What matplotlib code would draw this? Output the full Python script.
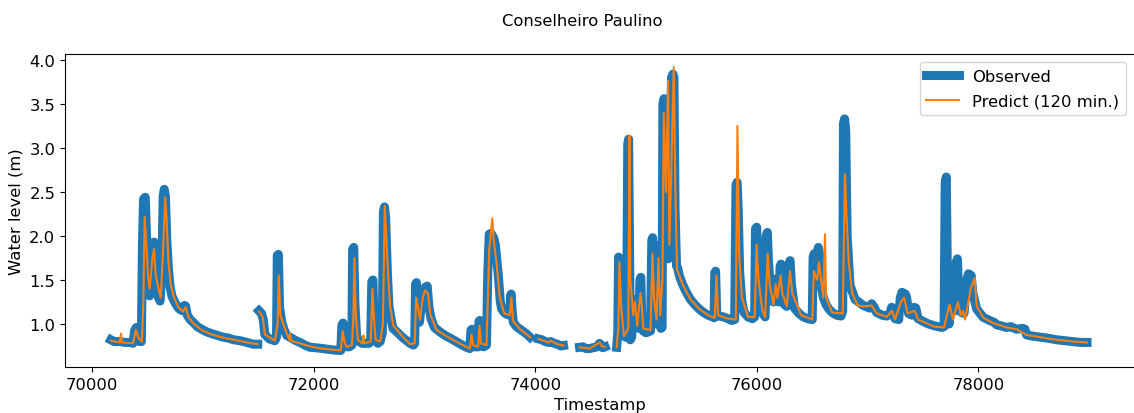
import numpy as np
import matplotlib
matplotlib.use("Agg")
import matplotlib.pyplot as plt

nan = np.nan

# observed water level (timestamp, metres), nan = missing data
observed = [
    (70170, 0.82), (70200, 0.80), (70250, 0.80), (70300, 0.79), (70350, 0.79), (70370, 0.78),
    (70385, 0.93), (70400, 0.96), (70415, 0.93), (70430, 0.80), (70445, 0.80), (70455, 1.90),
    (70465, 2.42), (70480, 2.44), (70492, 2.00), (70505, 1.45), (70520, 1.32), (70535, 1.70),
    (70550, 1.92), (70560, 1.93), (70570, 1.60), (70585, 1.50), (70600, 1.30), (70614, 1.26),
    (70630, 1.60), (70642, 2.45), (70652, 2.53), (70662, 2.45), (70675, 1.95), (70690, 1.62),
    (70705, 1.42), (70720, 1.32), (70750, 1.24), (70780, 1.18), (70800, 1.16), (70820, 1.15),
    (70835, 1.21), (70845, 1.20), (70860, 1.10), (70885, 1.05), (70912, 1.02), (70950, 0.97),
    (70990, 0.94), (71035, 0.91), (71080, 0.89), (71130, 0.87), (71182, 0.85), (71230, 0.84),
    (71280, 0.82), (71336, 0.81), (71400, 0.79), (71455, 0.77), (71495, 0.77),
    (71501, nan),
    (71507, 1.15), (71530, 1.12), (71545, 1.05), (71560, 0.88), (71600, 0.83), (71650, 0.81),
    (71665, 0.85), (71672, 1.78), (71682, 1.79), (71692, 1.20), (71712, 1.02), (71735, 0.93),
    (71757, 0.87), (71800, 0.84), (71840, 0.81), (71877, 0.79), (71920, 0.76), (71967, 0.735),
    (72020, 0.73), (72085, 0.72), (72150, 0.71), (72208, 0.70), (72245, 0.70), (72255, 0.98),
    (72265, 1.01), (72278, 0.80), (72298, 0.74), (72320, 0.74), (72345, 0.76), (72352, 1.85),
    (72362, 1.87), (72372, 1.25), (72388, 0.86), (72410, 0.80), (72440, 0.78), (72470, 0.78),
    (72500, 0.78), (72515, 0.80), (72525, 1.48), (72535, 1.50), (72545, 1.00), (72560, 0.82),
    (72580, 0.78), (72600, 0.80), (72620, 0.90), (72630, 2.28), (72640, 2.33), (72650, 2.20),
    (72665, 1.60), (72680, 1.20), (72700, 1.05), (72716, 0.95), (72760, 0.90), (72800, 0.85),
    (72840, 0.81), (72870, 0.78), (72900, 0.76), (72912, 0.78), (72920, 1.45), (72928, 1.47),
    (72940, 1.10), (72955, 1.02), (72975, 1.25), (72995, 1.38), (73010, 1.42), (73025, 1.43),
    (73040, 1.20), (73060, 1.06), (73090, 0.96), (73110, 0.94), (73150, 0.90), (73200, 0.86),
    (73260, 0.82), (73300, 0.79), (73340, 0.76), (73380, 0.735), (73410, 0.72), (73420, 0.93),
    (73428, 0.94), (73440, 0.76), (73460, 0.74), (73485, 0.74), (73492, 1.03), (73500, 1.04),
    (73510, 0.78), (73535, 0.74), (73560, 0.76), (73572, 1.60), (73585, 2.02), (73600, 2.03),
    (73625, 1.98), (73640, 1.90), (73655, 1.70), (73667, 1.55), (73685, 1.25), (73697, 1.17),
    (73720, 1.13), (73743, 1.11), (73770, 1.10), (73776, 1.30), (73783, 1.34), (73792, 1.15),
    (73802, 1.02), (73830, 0.97), (73863, 0.94), (73895, 0.91), (73923, 0.886), (73953, 0.85),
    (73990, nan),
    (74030, 0.83), (74060, 0.82), (74090, 0.80), (74120, 0.79), (74140, 0.80), (74170, 0.78),
    (74200, 0.77), (74230, 0.75), (74255, 0.755),
    (74330, nan),
    (74400, 0.735), (74430, 0.74), (74460, 0.72), (74490, 0.72), (74520, 0.73), (74560, 0.74),
    (74580, 0.78), (74595, 0.76), (74610, 0.73), (74630, 0.74),
    (74680, nan),
    (74735, 0.735), (74745, 0.90), (74752, 1.76), (74760, 1.74), (74770, 1.40), (74785, 0.95),
    (74800, 0.88), (74815, 0.85), (74825, 1.00), (74835, 3.05), (74843, 3.10), (74850, 2.00),
    (74858, 0.82), (74870, 0.85), (74885, 1.28), (74900, 1.25), (74915, 0.98), (74935, 0.95),
    (74945, 1.50), (74953, 1.53), (74962, 1.00), (74975, 0.92), (75000, 0.90), (75040, 0.92),
    (75052, 1.95), (75060, 1.98), (75068, 1.60), (75080, 1.05), (75095, 1.00), (75105, 1.85),
    (75113, 1.89), (75122, 1.40), (75135, 0.95), (75145, 0.96), (75152, 3.50), (75162, 3.56),
    (75172, 3.50), (75185, 2.00), (75200, 1.74), (75215, 2.50), (75230, 3.80), (75243, 3.84),
    (75252, 3.80), (75262, 2.30), (75275, 1.66), (75285, 1.64), (75300, 1.55), (75330, 1.45),
    (75360, 1.37), (75400, 1.28), (75440, 1.22), (75480, 1.17), (75520, 1.13), (75560, 1.10),
    (75600, 1.08), (75615, 1.07), (75620, 1.58), (75628, 1.60), (75638, 1.10), (75660, 1.09),
    (75700, 1.08), (75740, 1.06), (75772, 1.04), (75800, 1.05), (75812, 2.58), (75822, 2.61),
    (75832, 2.30), (75845, 1.59), (75865, 1.25), (75885, 1.13), (75920, 1.08), (75960, 1.06),
    (75980, 1.08), (75988, 2.08), (75998, 2.10), (76008, 1.80), (76030, 1.25), (76050, 1.13),
    (76075, 1.08), (76085, 2.00), (76095, 2.04), (76105, 1.70), (76130, 1.28), (76150, 1.25),
    (76160, 1.45), (76168, 1.51), (76180, 1.30), (76200, 1.25), (76210, 1.65), (76218, 1.68),
    (76228, 1.40), (76250, 1.22), (76270, 1.20), (76290, 1.68), (76300, 1.72), (76312, 1.45),
    (76340, 1.18), (76380, 1.12), (76420, 1.08), (76460, 1.06), (76500, 1.05), (76508, 1.76),
    (76518, 1.80), (76530, 1.72), (76545, 1.80), (76555, 1.87), (76565, 1.80), (76580, 1.45),
    (76600, 1.30), (76625, 1.22), (76650, 1.17), (76680, 1.13), (76720, 1.10), (76760, 1.09),
    (76775, 1.15), (76782, 3.28), (76792, 3.33), (76802, 3.20), (76815, 2.00), (76841, 1.44),
    (76886, 1.28), (76961, 1.21), (77020, 1.18), (77037, 1.23), (77055, 1.20), (77082, 1.13),
    (77130, 1.10), (77172, 1.09), (77205, 1.13), (77217, 1.19), (77230, 1.10), (77247, 1.06),
    (77280, 1.05), (77295, 1.30), (77310, 1.36), (77340, 1.34), (77352, 1.30), (77370, 1.12),
    (77400, 1.10), (77420, 1.19), (77435, 1.18), (77455, 1.06), (77500, 1.03), (77550, 1.00),
    (77600, 0.98), (77668, 0.96), (77690, 0.97), (77700, 2.60), (77710, 2.67), (77720, 1.50),
    (77735, 1.00), (77755, 1.20), (77773, 1.28), (77790, 1.15), (77800, 1.70), (77810, 1.74),
    (77822, 1.35), (77849, 1.13), (77870, 1.12), (77895, 1.50), (77910, 1.57), (77935, 1.55),
    (77950, 1.35), (77984, 1.17), (78044, 1.075), (78100, 1.04), (78140, 1.02), (78165, 0.99),
    (78200, 0.98), (78255, 0.96), (78290, 0.97), (78345, 0.94), (78400, 0.95), (78420, 0.94),
    (78435, 0.875), (78500, 0.86), (78556, 0.85), (78620, 0.84), (78706, 0.82), (78780, 0.81),
    (78856, 0.80), (78920, 0.79), (78980, 0.79),
]

# model prediction 120 min ahead (timestamp, metres)
predicted = [
    (70170, 0.81), (70250, 0.79), (70262, 0.89), (70270, 0.79), (70370, 0.78), (70395, 0.93),
    (70420, 0.84), (70450, 0.80), (70462, 1.20), (70475, 2.22), (70490, 1.90), (70505, 1.55),
    (70520, 1.40), (70545, 1.75), (70560, 1.85), (70575, 1.55), (70600, 1.40), (70620, 1.30),
    (70640, 1.80), (70660, 2.44), (70672, 2.20), (70690, 1.70), (70710, 1.45), (70740, 1.30),
    (70780, 1.19), (70820, 1.14), (70845, 1.19), (70870, 1.08), (70912, 1.01), (70990, 0.93),
    (71080, 0.88), (71182, 0.845), (71280, 0.82), (71400, 0.79), (71495, 0.77),
    (71501, nan),
    (71507, 1.14), (71540, 1.08), (71560, 0.88), (71650, 0.81), (71675, 1.00), (71685, 1.55),
    (71700, 1.10), (71740, 0.95), (71780, 0.82), (71787, 0.89), (71795, 0.81), (71900, 0.77),
    (72020, 0.73), (72150, 0.71), (72245, 0.70), (72262, 0.92), (72278, 0.80), (72298, 0.74),
    (72345, 0.76), (72358, 1.05), (72368, 1.75), (72380, 1.10), (72400, 0.82), (72440, 0.78),
    (72449, 0.87), (72456, 0.78), (72515, 0.80), (72530, 1.40), (72545, 1.05), (72560, 0.82),
    (72600, 0.80), (72625, 1.00), (72642, 2.34), (72655, 2.00), (72670, 1.60), (72690, 1.20),
    (72720, 0.98), (72800, 0.86), (72870, 0.77), (72912, 0.78), (72925, 1.30), (72940, 1.20),
    (72960, 1.05), (72985, 1.30), (73005, 1.38), (73030, 1.35), (73055, 1.10), (73110, 0.93),
    (73200, 0.86), (73300, 0.79), (73410, 0.72), (73425, 0.88), (73440, 0.76), (73485, 0.74),
    (73497, 0.98), (73510, 0.78), (73560, 0.76), (73585, 1.85), (73613, 2.20), (73625, 1.95),
    (73650, 1.70), (73680, 1.30), (73720, 1.12), (73770, 1.10), (73785, 1.30), (73800, 1.03),
    (73863, 0.94), (73953, 0.85),
    (73990, nan),
    (74030, 0.83), (74120, 0.79), (74140, 0.81), (74200, 0.77), (74255, 0.755),
    (74330, nan),
    (74400, 0.735), (74490, 0.72), (74580, 0.79), (74600, 0.75), (74630, 0.74),
    (74680, nan),
    (74735, 0.74), (74750, 0.95), (74760, 1.70), (74775, 1.20), (74800, 0.86), (74840, 0.95),
    (74850, 3.14), (74858, 1.50), (74885, 1.10), (74900, 1.25), (74920, 0.98), (74950, 1.35),
    (74962, 1.20), (74975, 0.95), (75040, 0.93), (75058, 1.80), (75072, 1.30), (75095, 1.05),
    (75112, 1.75), (75128, 1.10), (75148, 1.50), (75160, 3.40), (75180, 2.50), (75199, 3.76),
    (75210, 1.90), (75225, 2.60), (75250, 3.92), (75265, 2.50), (75280, 1.62), (75330, 1.45),
    (75400, 1.28), (75480, 1.17), (75560, 1.10), (75620, 1.07), (75635, 1.55), (75650, 1.10),
    (75740, 1.06), (75810, 1.05), (75825, 3.25), (75840, 1.80), (75865, 1.30), (75920, 1.08),
    (75980, 1.08), (75998, 1.90), (76015, 1.50), (76050, 1.15), (76075, 1.08), (76098, 1.80),
    (76115, 1.45), (76150, 1.22), (76170, 1.45), (76185, 1.30), (76215, 1.55), (76230, 1.35),
    (76270, 1.20), (76300, 1.60), (76320, 1.35), (76400, 1.10), (76500, 1.05), (76515, 1.60),
    (76545, 1.50), (76560, 1.70), (76600, 1.30), (76615, 2.02), (76625, 1.30), (76680, 1.13),
    (76775, 1.12), (76795, 2.70), (76810, 2.20), (76830, 1.70), (76860, 1.35), (76910, 1.21),
    (76961, 1.20), (77037, 1.21), (77082, 1.12), (77172, 1.08), (77220, 1.15), (77247, 1.05),
    (77300, 1.25), (77330, 1.30), (77360, 1.12), (77425, 1.15), (77455, 1.05), (77600, 0.97),
    (77690, 0.96), (77715, 1.10), (77740, 1.22), (77770, 1.05), (77815, 1.25), (77840, 1.10),
    (77860, 1.15), (77880, 1.05), (77930, 1.40), (77965, 1.52), (77985, 1.20), (78044, 1.07),
    (78134, 1.01), (78255, 0.96), (78345, 0.94), (78435, 0.875), (78556, 0.85), (78706, 0.82),
    (78856, 0.80), (78980, 0.79),
]

obs_time, obs_level = np.array(observed, dtype=float).T
pred_time, pred_level = np.array(predicted, dtype=float).T

fs = 11.8

fig = plt.figure(figsize=(11.34, 4.14), dpi=100)
ax = fig.add_axes([65 / 1134, 46 / 414, 1 - 65 / 1134, 313 / 414])

ax.plot(obs_time, obs_level, color="#1f77b4", lw=6.5, label="Observed")
ax.plot(pred_time, pred_level, color="#ff7f0e", lw=1.5, label="Predict (120 min.)")

ax.set_xlim(69756, 79404)
ax.set_ylim(0.511, 4.068)
ax.set_xlabel("Timestamp", fontsize=fs)
ax.set_ylabel("Water level (m)", fontsize=fs)
ax.tick_params(labelsize=fs)
ax.spines["right"].set_visible(False)
ax.legend(loc="upper right", fontsize=fs, labelspacing=0.6)

fig.suptitle("Conselheiro Paulino", fontsize=fs, x=582 / 1134, y=0.948, va="center")

fig.savefig("out.png", dpi=100)
